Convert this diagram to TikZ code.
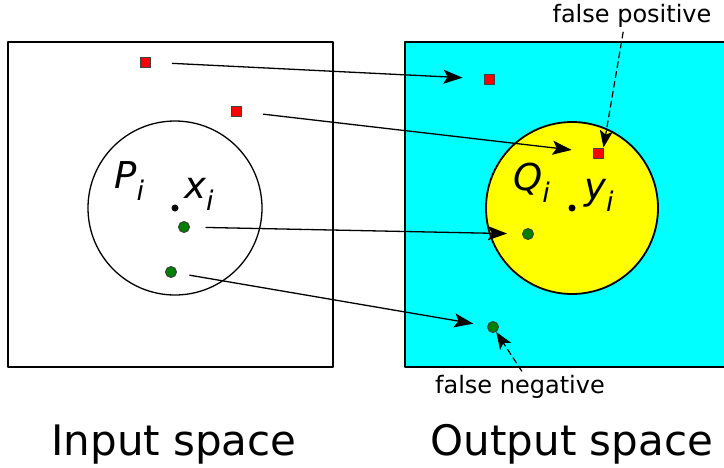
\documentclass[tikz,border=0pt]{standalone}
\usepackage{fontspec}
\setmainfont{DejaVu Sans}
\usetikzlibrary{arrows.meta}

\definecolor{outcyan}{RGB}{0,255,255}
\definecolor{inyellow}{RGB}{255,255,0}
\definecolor{ptred}{RGB}{255,0,0}
\definecolor{ptgreen}{RGB}{0,128,0}

\newcommand{\sublbl}[2]{\itshape #1\raisebox{-12pt}{\fontsize{27}{27}\selectfont #2}}

\begin{document}
\begin{tikzpicture}[x=1pt, y=-1pt, line cap=round, line join=round,
	redsq/.style={draw=black!75, fill=ptred, minimum size=10pt, inner sep=0pt, line width=1pt},
	grdot/.style={circle, draw=black!75, fill=ptgreen, minimum size=11pt, inner sep=0pt, line width=1pt},
	ctr/.style={circle, fill=black, minimum size=7pt, inner sep=0pt},
	maplbl/.style={anchor=base west, inner sep=0pt, font=\fontsize{37}{37}\selectfont},
	maparrow/.style={-{Stealth[length=19pt, width=14pt, inset=4pt]}, line width=1.3pt},
	notearrow/.style={-{Stealth[length=17pt, width=13pt, inset=4pt]}, dash pattern=on 6pt off 4pt, line width=1.2pt}]
	\useasboundingbox (0,0) rectangle (724,467);
	\clip (0,0) rectangle (724,467);

	% Пространства
	\draw[line width=1.4pt] (8,42) rectangle (333,367);
	\draw[line width=1.4pt, fill=outcyan] (405,42) rectangle (740,367);
	\draw[line width=1.3pt] (175,208) circle[radius=87];
	\draw[line width=1.8pt, fill=inyellow] (572,208) circle[radius=86];

	% Окрестности и центры
	\node[maplbl] (plbl) at (114,188) {\sublbl{P}{i}};
	\node[maplbl] (xlbl) at (184,198) {\sublbl{x}{i}};
	\node[maplbl] (qlbl) at (513,190) {\sublbl{Q}{i}};
	\node[maplbl] (ylbl) at (584,199) {\sublbl{y}{i}};
	\node[ctr] (xc) at (175,208) {};
	\node[ctr] (yc) at (572,208) {};

	% Точки входа
	\node[redsq] (a1) at (145,62) {};
	\node[redsq] (a2) at (236,111) {};
	\node[grdot] (b1) at (184,227) {};
	\node[grdot] (b2) at (171,272) {};

	% Точки выхода
	\node[redsq] (fa1) at (489,79) {};
	\node[redsq] (fa2) at (598,153) {};
	\node[grdot] (fb1) at (528,234) {};
	\node[grdot] (fb2) at (493,327) {};

	% Отображение
	\draw[maparrow, shorten <=22pt, shorten >=21pt] (a1) -- (fa1);
	\draw[maparrow, shorten <=22pt, shorten >=21pt] (a2) -- (fa2);
	\draw[maparrow, shorten <=16pt, shorten >=15pt] (b1) -- (fb1);
	\draw[maparrow, shorten <=13pt, shorten >=14pt] (b2) -- (fb2);

	% Подписи
	\node[inner sep=0pt, anchor=base, font=\fontsize{24}{24}\selectfont] (fplbl) at (632,22) {false positive};
	\node[inner sep=0pt, anchor=base, font=\fontsize{24}{24}\selectfont] (fnlbl) at (520,393) {false negative};
	\draw[notearrow, shorten <=5pt] ([xshift=-8pt]fplbl.south) -- (fa2.north east);
	\draw[notearrow, shorten <=4pt] ([xshift=4pt]fnlbl.north) -- (fb2);

	\node[inner sep=0pt, anchor=base, font=\fontsize{42}{42}\selectfont] (inlbl) at (174,455) {Input space};
	\node[inner sep=0pt, anchor=base, font=\fontsize{42}{42}\selectfont] (outlbl) at (572,455) {Output space};
\end{tikzpicture}
\end{document}
